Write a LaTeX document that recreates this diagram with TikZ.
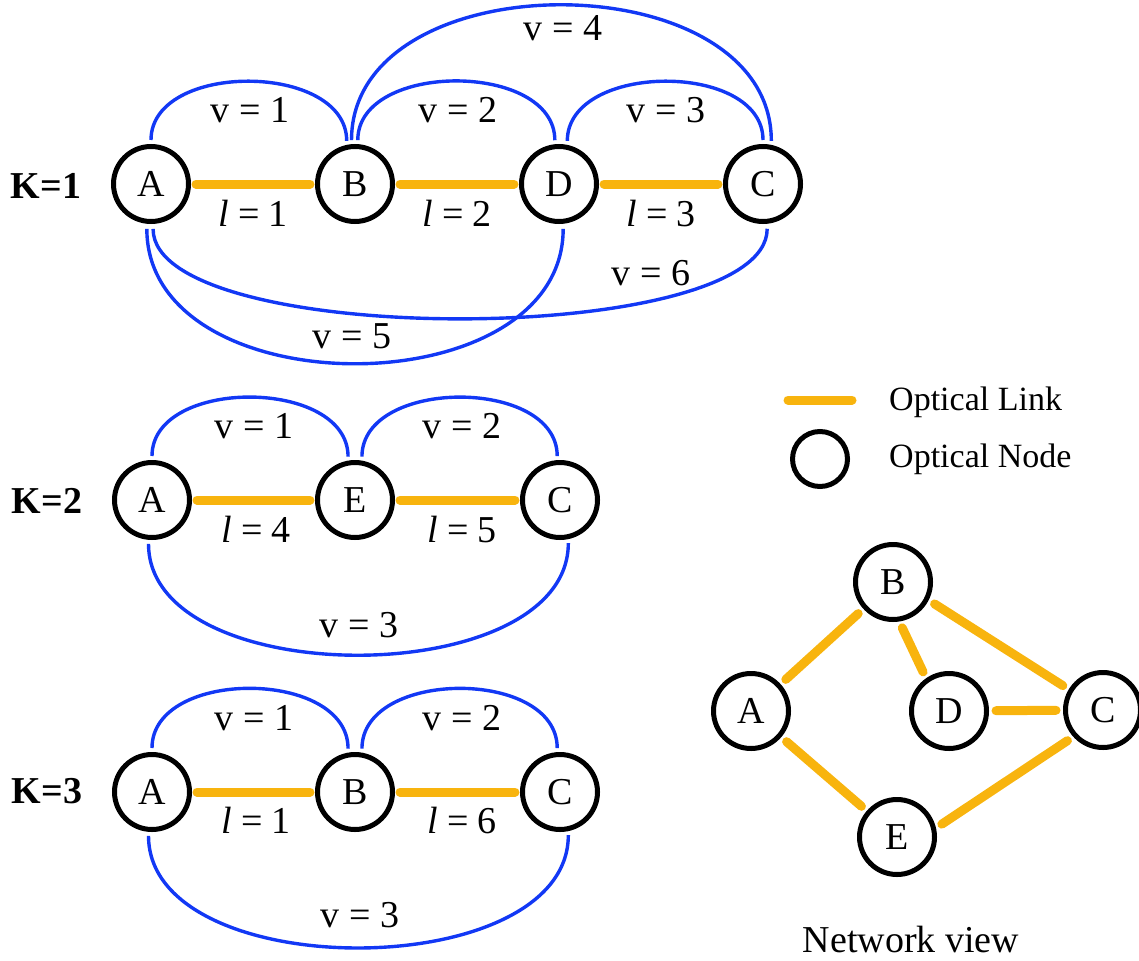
\documentclass[tikz,border=0pt]{standalone}
\usepackage{fontspec}
\setmainfont{Liberation Serif}
\definecolor{linkor}{RGB}{248,180,14}
\definecolor{arcblue}{RGB}{18,56,245}
\begin{document}
\begin{tikzpicture}[x=1pt,y=-1pt,
 onode/.style={circle,draw=black,line width=5pt,fill=white,minimum size=75pt,inner sep=0pt,font=\fontsize{38}{40}\selectfont},
 olink/.style={draw=linkor,line width=9pt,line cap=round,shorten <=5pt,shorten >=5pt},
 nlink/.style={olink,shorten <=7pt,shorten >=7pt},
 varc/.style={draw=arcblue,line width=3.4pt},
 lab/.style={anchor=base,font=\fontsize{38}{40}\selectfont,inner sep=0pt},
 klab/.style={anchor=base,font=\fontsize{38}{40}\selectfont\bfseries,inner sep=0pt},
 leg/.style={anchor=base west,font=\fontsize{34}{36}\selectfont,inner sep=0pt}]
\useasboundingbox (0,0) rectangle (1139,960);

% ---------- K=1 ----------
\node[onode] (A1) at (151,184) {A};
\node[onode] (B1) at (355,184) {B};
\node[onode] (D1) at (559,184) {D};
\node[onode] (C1) at (763,184) {C};
\draw[olink] (A1) -- (B1);
\draw[olink] (B1) -- (D1);
\draw[olink] (D1) -- (C1);
\draw[varc] ([yshift=4pt]A1.north) .. controls +(0,-79) and +(0,-79) .. ([yshift=4pt]B1.102);
\draw[varc] ([yshift=4pt]B1.95) .. controls +(0,-181) and +(0,-181) .. ([yshift=4pt]C1.78);
\draw[varc] ([yshift=4pt]B1.86) .. controls +(0,-79) and +(0,-79) .. ([yshift=4pt]D1.96);
\draw[varc] ([yshift=4pt]D1.78) .. controls +(0,-79) and +(0,-79) .. ([yshift=4pt]C1.north);
\draw[varc] ([yshift=-5pt]A1.264) .. controls +(0,180) and +(0,180) .. ([yshift=-5pt]D1.276);
\draw[varc] ([yshift=-5pt]A1.273) .. controls +(0,120) and +(0,120) .. ([yshift=-5pt]C1.276);
\node[klab] (K1) at (46,198) {K=1};
\node[lab] (v11) at (250,123) {v = 1};
\node[lab] (v12) at (458,123) {v = 2};
\node[lab] (v13) at (666,123) {v = 3};
\node[lab] (v14) at (563,41) {v = 4};
\node[lab] (v15) at (352,348) {v = 5};
\node[lab] (v16) at (651,285) {v = 6};
\node[lab] (l11) at (253,226) {\textit{l} = 1};
\node[lab] (l12) at (457,226) {\textit{l} = 2};
\node[lab] (l13) at (661,226) {\textit{l} = 3};

% ---------- K=2 ----------
\node[onode] (A2) at (152,500) {A};
\node[onode] (E2) at (355,500) {E};
\node[onode] (C2) at (560,500) {C};
\draw[olink] (A2) -- (E2);
\draw[olink] (E2) -- (C2);
\draw[varc] ([yshift=4pt]A2.north) .. controls +(0,-79) and +(0,-79) .. ([yshift=4pt]E2.100);
\draw[varc] ([yshift=4pt]E2.80) .. controls +(0,-79) and +(0,-79) .. ([yshift=4pt]C2.94);
\draw[varc] ([yshift=-4pt]A2.265) .. controls +(0,149) and +(0,149) .. ([yshift=-4pt]C2.282);
\node[klab] (K2) at (47,513) {K=2};
\node[lab] (v21) at (254,438) {v = 1};
\node[lab] (v22) at (462,438) {v = 2};
\node[lab] (v23) at (359,637) {v = 3};
\node[lab] (l24) at (256,542) {\textit{l} = 4};
\node[lab] (l25) at (462,542) {\textit{l} = 5};

% ---------- K=3 ----------
\node[onode] (A3) at (152,792) {A};
\node[onode] (B3) at (355,792) {B};
\node[onode] (C3) at (560,792) {C};
\draw[olink] (A3) -- (B3);
\draw[olink] (B3) -- (C3);
\draw[varc] ([yshift=4pt]A3.north) .. controls +(0,-80) and +(0,-80) .. ([yshift=4pt]B3.100);
\draw[varc] ([yshift=4pt]B3.80) .. controls +(0,-80) and +(0,-80) .. ([yshift=4pt]C3.94);
\draw[varc] ([yshift=-4pt]A3.265) .. controls +(0,150) and +(0,150) .. ([yshift=-4pt]C3.282);
\node[klab] (K3) at (47,803) {K=3};
\node[lab] (v31) at (254,730) {v = 1};
\node[lab] (v32) at (462,730) {v = 2};
\node[lab] (v33) at (360,927) {v = 3};
\node[lab] (l31) at (256,833) {\textit{l} = 1};
\node[lab] (l36) at (462,833) {\textit{l} = 6};

% ---------- legend ----------
\coordinate (lg1) at (788,400);
\coordinate (lg2) at (852,400);
\draw[draw=linkor,line width=9pt,line cap=round] (lg1) -- (lg2);
\node[onode,minimum size=55pt] (lgn) at (820,459) {};
\node[leg] (lgt1) at (889,410) {Optical Link};
\node[leg] (lgt2) at (889,467) {Optical Node};

% ---------- network view ----------
\node[onode] (NB) at (893,582) {B};
\node[onode] (NA) at (751,711) {A};
\node[onode] (ND) at (949,711) {D};
\node[onode] (NC) at (1103,710) {C};
\node[onode] (NE) at (897,837) {E};
\draw[nlink] (NA) -- (NB);
\draw[nlink] (NB.279) -- (ND.125);
\draw[nlink] (NB.333) -- (NC.149);
\draw[nlink] (ND) -- (NC);
\draw[nlink] (NA) -- (NE);
\draw[nlink] (NE.13) -- (NC.222);
\node[lab] (nv) at (911,952) {Network view};
\end{tikzpicture}
\end{document}
